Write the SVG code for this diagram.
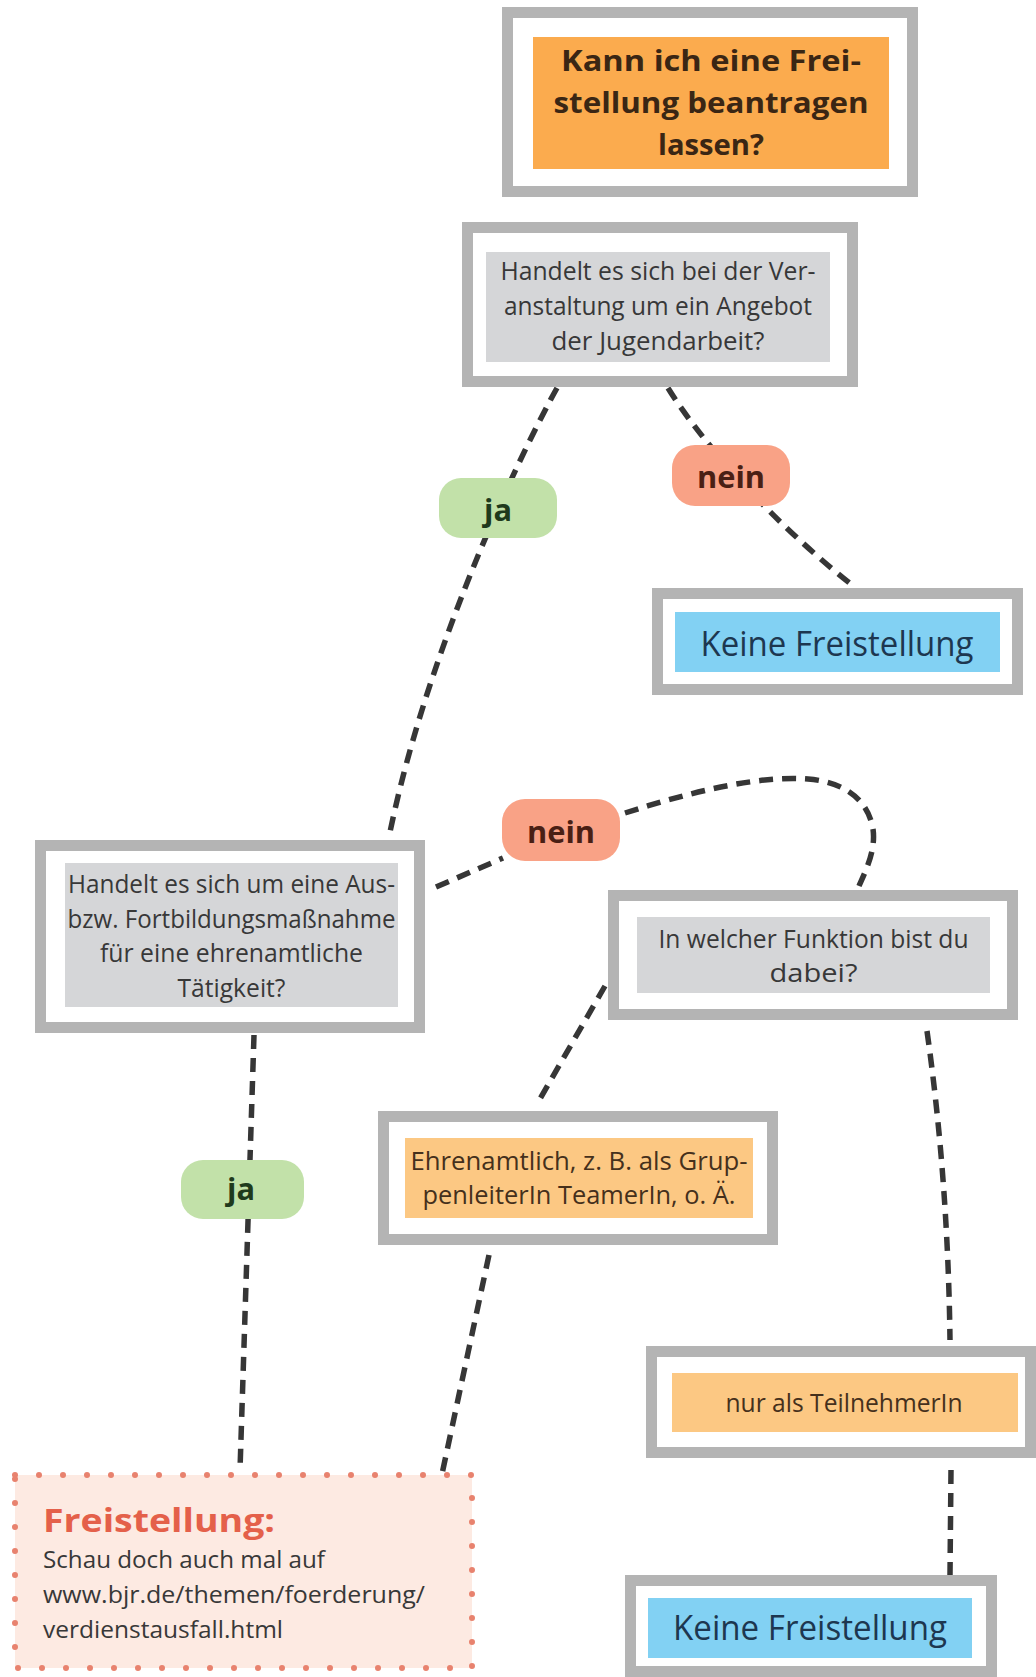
<svg xmlns="http://www.w3.org/2000/svg" width="1036" height="1677" viewBox="0 0 1036 1677">
<style>
.frame{fill:#ffffff;stroke:#b4b4b4;stroke-width:11}
.q{fill:#d5d6d8}
.org{fill:#fbab4e}
.lorg{fill:#fcc883}
.blue{fill:#82d1f3}
.t{font-family:"Open Sans","Noto Sans","DejaVu Sans",sans-serif;text-anchor:middle}
.qt{font-size:26px;fill:#383838}
.ot{font-size:25px;fill:#45301c}
.bt{font-size:35px;fill:#1d3750}
.tt{font-size:29px;font-weight:bold;fill:#3a2614}
.pill{font-size:30px;font-weight:bold}
.con{fill:none;stroke:#363636;stroke-width:5.5;stroke-dasharray:14 9}
.ft{font-family:"Open Sans","Noto Sans",sans-serif}
</style>
<rect width="1036" height="1677" fill="#ffffff"/>

<g id="connectors">
<path class="con" d="M557,388 C525,445 430,640 390,832"/>
<path class="con" d="M668,388 C700,440 770,520 852,585"/>
<path class="con" d="M436,887 L503,858"/>
<path class="con" d="M625,813 C690,792 760,775 808,779 C845,782 868,800 873,829 C876,850 866,870 859,886"/>
<path class="con" d="M254,1035 L240,1470"/>
<path class="con" d="M605,986 L537,1104"/>
<path class="con" d="M489,1255 L442,1474"/>
<path class="con" d="M927,1031 Q948,1180 950,1340"/>
<path class="con" d="M951,1470 L950,1575"/>
</g>

<g id="start">
<rect class="frame" x="507.5" y="12.5" width="405" height="179"/>
<rect class="org" x="533" y="37" width="356" height="132"/>
<text class="t tt" x="711" y="71" textLength="300" lengthAdjust="spacingAndGlyphs">Kann ich eine Frei-</text>
<text class="t tt" x="711" y="113" textLength="315" lengthAdjust="spacingAndGlyphs">stellung beantragen</text>
<text class="t tt" x="711" y="155" textLength="106" lengthAdjust="spacingAndGlyphs">lassen?</text>
</g>

<g id="q1">
<rect class="frame" x="467.5" y="227.5" width="385" height="154"/>
<rect class="q" x="486" y="252" width="344" height="110"/>
<text class="t qt" x="658" y="280" textLength="315" lengthAdjust="spacingAndGlyphs">Handelt es sich bei der Ver-</text>
<text class="t qt" x="658" y="315" textLength="308" lengthAdjust="spacingAndGlyphs">anstaltung um ein Angebot</text>
<text class="t qt" x="658" y="350" textLength="213" lengthAdjust="spacingAndGlyphs">der Jugendarbeit?</text>
</g>

<g id="ja1">
<rect x="439" y="478" width="118" height="60" rx="22" fill="#c2e1a9"/>
<text class="t pill" x="498" y="521" fill="#1f3a1c" textLength="28" lengthAdjust="spacingAndGlyphs">ja</text>
</g>

<g id="nein1">
<rect x="672" y="445" width="118" height="61" rx="23" fill="#f9a286"/>
<text class="t pill" x="731" y="488" fill="#4a1f14" textLength="68" lengthAdjust="spacingAndGlyphs">nein</text>
</g>

<g id="keine1">
<rect class="frame" x="657.5" y="593.5" width="360" height="96"/>
<rect class="blue" x="675" y="612" width="325" height="60"/>
<text class="t bt" x="837" y="656" textLength="273" lengthAdjust="spacingAndGlyphs">Keine Freistellung</text>
</g>

<g id="nein2">
<rect x="502" y="799" width="118" height="62" rx="23" fill="#f9a286"/>
<text class="t pill" x="561" y="843" fill="#4a1f14" textLength="68" lengthAdjust="spacingAndGlyphs">nein</text>
</g>

<g id="q2">
<rect class="frame" x="40.5" y="845.5" width="379" height="182"/>
<rect class="q" x="65" y="863" width="333" height="144"/>
<text class="t qt" x="231.5" y="893" textLength="327" lengthAdjust="spacingAndGlyphs">Handelt es sich um eine Aus-</text>
<text class="t qt" x="231.5" y="928" textLength="328" lengthAdjust="spacingAndGlyphs">bzw. Fortbildungsmaßnahme</text>
<text class="t qt" x="231.5" y="962" textLength="263" lengthAdjust="spacingAndGlyphs">für eine ehrenamtliche</text>
<text class="t qt" x="231.5" y="997" textLength="108" lengthAdjust="spacingAndGlyphs">Tätigkeit?</text>
</g>

<g id="q3">
<rect class="frame" x="613.5" y="895.5" width="399" height="119"/>
<rect class="q" x="637" y="917" width="353" height="76"/>
<text class="t qt" x="813.5" y="948" textLength="310" lengthAdjust="spacingAndGlyphs">In welcher Funktion bist du</text>
<text class="t qt" x="813.5" y="982" textLength="88" lengthAdjust="spacingAndGlyphs">dabei?</text>
</g>

<g id="ja2">
<rect x="181" y="1160" width="123" height="59" rx="22" fill="#c2e1a9"/>
<text class="t pill" x="241" y="1200" fill="#1f3a1c" textLength="28" lengthAdjust="spacingAndGlyphs">ja</text>
</g>

<g id="ehrenamt">
<rect class="frame" x="383.5" y="1116.5" width="389" height="123"/>
<rect class="lorg" x="405" y="1138" width="348" height="80"/>
<text class="t ot" x="579" y="1170" textLength="337" lengthAdjust="spacingAndGlyphs">Ehrenamtlich, z. B. als Grup-</text>
<text class="t ot" x="579" y="1204" textLength="313" lengthAdjust="spacingAndGlyphs">penleiterIn TeamerIn, o. Ä.</text>
</g>

<g id="teilnehmer">
<rect class="frame" x="651.5" y="1351.5" width="379" height="101"/>
<rect class="lorg" x="672" y="1373" width="346" height="59"/>
<text class="t ot" x="844" y="1412" textLength="237" lengthAdjust="spacingAndGlyphs">nur als TeilnehmerIn</text>
</g>

<g id="freistellung">
<rect x="15" y="1475" width="457" height="193" fill="#fdeae2" stroke="#e8826e" stroke-width="6" stroke-dasharray="0 24" stroke-linecap="round"/>
<text class="ft" x="43" y="1532" font-size="33" font-weight="bold" fill="#e4604a" textLength="232" lengthAdjust="spacingAndGlyphs">Freistellung:</text>
<text class="ft" x="43" y="1568" font-size="24" fill="#383838" textLength="282" lengthAdjust="spacingAndGlyphs">Schau doch auch mal auf</text>
<text class="ft" x="43" y="1603" font-size="24" fill="#383838" textLength="382" lengthAdjust="spacingAndGlyphs">www.bjr.de/themen/foerderung/</text>
<text class="ft" x="43" y="1638" font-size="24" fill="#383838" textLength="240" lengthAdjust="spacingAndGlyphs">verdienstausfall.html</text>
</g>

<g id="keine2">
<rect class="frame" x="630.5" y="1580.5" width="361" height="91"/>
<rect class="blue" x="648" y="1598" width="324" height="60"/>
<text class="t bt" x="810" y="1640" textLength="274" lengthAdjust="spacingAndGlyphs">Keine Freistellung</text>
</g>
</svg>
